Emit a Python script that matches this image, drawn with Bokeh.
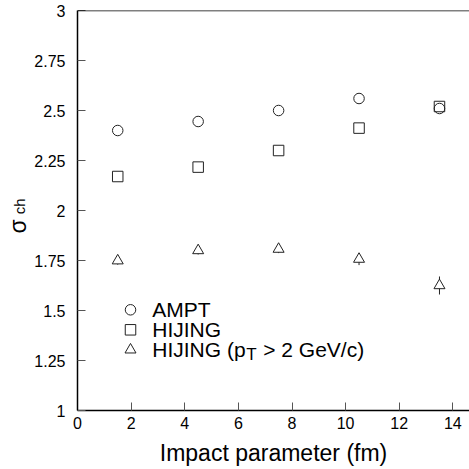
from bokeh.plotting import figure
from bokeh.models import Range1d, FixedTicker, Span, LinearAxis
from bokeh.core.properties import value
from bokeh.embed import file_html
from bokeh.resources import INLINE

# ---- data ----
impact = [1.5, 4.5, 7.5, 10.5, 13.5]
ampt = [2.40, 2.445, 2.50, 2.56, 2.51]
hijing = [2.17, 2.217, 2.30, 2.412, 2.52]
hijing_pt2 = [1.749, 1.80, 1.807, 1.757, 1.625]
hijing_pt2_err = [0.02, 0.02, 0.02, 0.03, 0.045]
series_names = ["AMPT", "HIJING", "HIJING (p"]
x_ticks = [0, 2, 4, 6, 8, 10, 12, 14]
y_ticks = [1, 1.25, 1.5, 1.75, 2, 2.25, 2.5, 2.75, 3]
y_tick_labels = ["1", "1.25", "1.5", "1.75", "2", "2.25", "2.5", "2.75", "3"]

FONT = "Liberation Sans"
MC = "#222222"
NB = "\u00a0"

p = figure(width=469, height=469, output_backend="svg", toolbar_location=None,
           x_range=Range1d(0, 14.62), y_range=Range1d(1, 3),
           min_border_left=77, min_border_right=0, min_border_top=10, min_border_bottom=59)
p.outline_line_color = None
p.xgrid.visible = False
p.ygrid.visible = False

for ax in (p.xaxis[0], p.yaxis[0]):
    ax.axis_line_color = "black"
    ax.axis_line_width = 1.5
    ax.major_tick_in = 8
    ax.major_tick_out = 0
    ax.major_tick_line_color = "#555555"
    ax.major_tick_line_width = 1
    ax.minor_tick_line_color = None
    ax.major_label_text_font = FONT
    ax.major_label_text_font_size = "16px"
    ax.major_label_text_color = "black"

p.xaxis.ticker = FixedTicker(ticks=x_ticks)
p.yaxis.ticker = FixedTicker(ticks=y_ticks)
p.yaxis.major_label_overrides = {t: l for t, l in zip(y_ticks, y_tick_labels)}
p.xaxis.major_label_standoff = 6
p.yaxis.major_label_standoff = 12
p.xaxis.axis_label = "Impact parameter (fm)"
p.xaxis.axis_label_text_font = FONT
p.xaxis.axis_label_text_font_size = "23px"
p.xaxis.axis_label_text_font_style = "normal"
p.xaxis.axis_label_text_color = "black"
p.xaxis.axis_label_standoff = 8

# y label: sigma (main axis) + subscript "ch" (extra axis label)
p.yaxis.axis_label = "σ" + NB * 5
p.yaxis.axis_label_text_font = FONT
p.yaxis.axis_label_text_font_size = "23px"
p.yaxis.axis_label_text_font_style = "normal"
p.yaxis.axis_label_text_color = "black"
p.yaxis.axis_label_standoff = 0

sub = LinearAxis(ticker=FixedTicker(ticks=[]), axis_label=NB * 2 + "ch",
                 axis_line_color=None, major_tick_line_color=None, minor_tick_line_color=None,
                 axis_label_text_font=FONT, axis_label_text_font_size="15px",
                 axis_label_text_font_style="normal", axis_label_text_color="black",
                 axis_label_standoff=-25)
p.add_layout(sub, "left")

# top frame line
p.add_layout(Span(location=3, dimension="width", line_color="black", line_width=1.5))

# data
p.scatter(impact, ampt, marker="circle", size=10.5, fill_color=None, line_color=MC, line_width=1)
p.scatter(impact, hijing, marker="square", size=10.5, fill_color=None, line_color=MC, line_width=1)
lo = [v - e for v, e in zip(hijing_pt2, hijing_pt2_err)]
hi = [v + e for v, e in zip(hijing_pt2, hijing_pt2_err)]
p.segment(impact, lo, impact, hi, line_color=MC, line_width=1)
p.scatter(impact, hijing_pt2, marker="triangle", size=11, fill_color="white", line_color=MC, line_width=1)

# legend
lx = 1.977
ly = [1.5035, 1.4035, 1.3035]
p.scatter([lx], [ly[0]], marker="circle", size=10.5, fill_color=None, line_color=MC)
p.scatter([lx], [ly[1]], marker="square", size=10.5, fill_color=None, line_color=MC)
p.scatter([lx], [ly[2]], marker="triangle", size=11, fill_color=None, line_color=MC)
tx = 2.787
p.text([tx] * 3, ly, text=series_names, text_font=value(FONT), text_font_size="21px",
       text_baseline="middle", text_align="left", text_color="black")
p.text([tx], [ly[2]], text=["T"], x_offset=94, y_offset=5, text_font=value(FONT),
       text_font_size="17px", text_baseline="middle", text_color="black")
p.text([tx], [ly[2]], text=["> 2 GeV/c)"], x_offset=111, text_font=value(FONT),
       text_font_size="21px", text_baseline="middle", text_color="black")

open("out.html", "w").write(file_html(p, INLINE))
